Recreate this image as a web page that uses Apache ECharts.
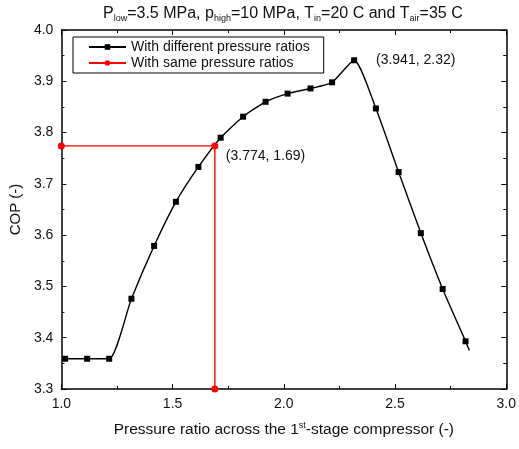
<!DOCTYPE html>
<html lang="en">
<head>
    <meta charset="utf-8">
    <script src="https://cdn.jsdelivr.net/npm/echarts@6/dist/echarts.min.js"></script>
</head>
<body style="margin: 0">
    <div id="main" style="width: 519px; height: 449px"></div>
    <script>
        // pressure ratio (x) and COP (y)
        var ratioDiff = [1.017, 1.116, 1.215, 1.315, 1.417, 1.515, 1.616, 1.716, 1.817, 1.918,
                         2.017, 2.120, 2.217, 2.316, 2.414, 2.516, 2.616, 2.714, 2.817];
        var copDiff = [3.359, 3.359, 3.359, 3.476, 3.579, 3.665, 3.733, 3.790, 3.831, 3.860,
                       3.876, 3.886, 3.898, 3.941, 3.847, 3.723, 3.604, 3.495, 3.393];
        var curveEnd = [2.834, 3.375];   // end of the fitted curve, no marker

        var ratioSame = [1.0, 1.69, 1.69];
        var copSame = [3.774, 3.774, 3.3];

        var notes = [
            { text: '(3.941, 2.32)', at: [2.32, 3.941], offset: [16, 0] },
            { text: '(3.774, 1.69)', at: [1.69, 3.774], offset: [6, 10] }
        ];

        var font = 'Arial, "Liberation Sans", sans-serif';

        var diffData = ratioDiff.map(function (x, i) { return [x, copDiff[i]]; });
        diffData.push({ value: curveEnd, symbol: 'none' });
        var sameData = ratioSame.map(function (x, i) { return [x, copSame[i]]; });

        var chart = echarts.init(document.getElementById('main'));

        function axisBase(pos, show, min, max, step) {
            return {
                type: 'value', position: pos, min: min, max: max, interval: step,
                axisLine: { show: true, onZero: false, lineStyle: { color: '#000', width: 1.5 } },
                axisTick: { inside: true, length: 5, lineStyle: { color: '#000' } },
                minorTick: { show: true, splitNumber: 2, length: 3, lineStyle: { color: '#000' } },
                splitLine: { show: false },
                axisLabel: {
                    show: show, color: '#111', fontSize: 14, fontFamily: font, margin: 8,
                    formatter: function (v) { return v.toFixed(1); }
                }
            };
        }

        var xMain = axisBase('bottom', true, 1.0, 3.0, 0.5);
        xMain.name = 'Pressure ratio across the 1{sup|st}-stage compressor (-)';
        xMain.nameLocation = 'middle';
        xMain.nameGap = 32;
        xMain.nameTextStyle = {
            color: '#111', fontSize: 15.5, fontFamily: font,
            rich: { sup: { fontSize: 9, verticalAlign: 'top', padding: [0, 0, 9, 0], fontFamily: font, color: '#111' } }
        };
        var yMain = axisBase('left', true, 3.3, 4.0, 0.1);
        yMain.name = 'COP (-)';
        yMain.nameLocation = 'middle';
        yMain.nameGap = 38;
        yMain.nameTextStyle = { color: '#111', fontSize: 15, fontFamily: font };

        var subStyle = { fontSize: 9, fontFamily: font, color: '#111', padding: [9, 0, 0, 0] };

        chart.setOption({
            animation: false,
            title: {
                text: 'P{s|low}=3.5 MPa, p{s|high}=10 MPa, T{s|in}=20 C and T{s|air}=35 C',
                left: 98, top: 0,
                textStyle: {
                    fontSize: 16, fontWeight: 'normal', fontFamily: font, color: '#111',
                    rich: { s: subStyle }
                }
            },
            grid: { left: 61, right: 12, top: 30, bottom: 60 },
            legend: {
                orient: 'vertical', left: 73, top: 37,
                borderColor: '#000', borderWidth: 1,
                padding: [3, 14, 3, 15],
                itemWidth: 37, itemHeight: 7, itemGap: 2,
                textStyle: { fontSize: 14, fontFamily: font, color: '#111' },
                data: ['With different pressure ratios', 'With same pressure ratios']
            },
            xAxis: [xMain, axisBase('top', false, 1.0, 3.0, 0.5)],
            yAxis: [yMain, axisBase('right', false, 3.3, 4.0, 0.1)],
            series: [
                {
                    name: 'With different pressure ratios', type: 'line',
                    data: diffData, smooth: 0.2,
                    symbol: 'rect', symbolSize: 6,
                    itemStyle: { color: '#000' },
                    lineStyle: { color: '#000', width: 1.4 },
                    z: 3
                },
                {
                    name: 'With same pressure ratios', type: 'line',
                    data: sameData,
                    symbol: 'circle', symbolSize: 7,
                    itemStyle: { color: '#ff0000' },
                    lineStyle: { color: '#ff0000', width: 1.4 },
                    z: 4,
                    markPoint: {
                        symbol: 'circle', symbolSize: 0,
                        data: notes.map(function (n) {
                            return {
                                name: n.text, coord: n.at,
                                label: {
                                    show: true, position: 'right', offset: n.offset,
                                    color: '#111', fontSize: 14, fontFamily: font,
                                    formatter: function (p) { return p.name; }
                                }
                            };
                        })
                    }
                }
            ]
        });
    </script>
</body>
</html>
